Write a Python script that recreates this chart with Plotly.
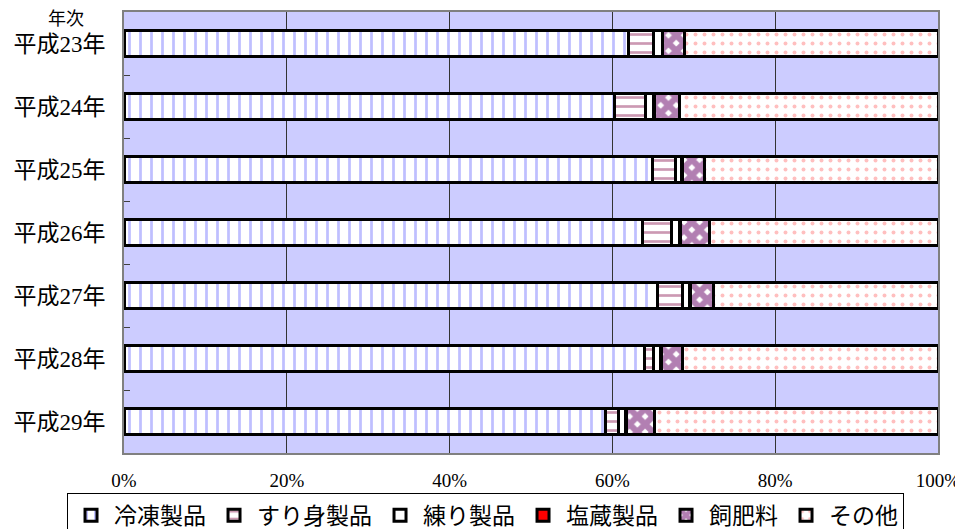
import plotly.graph_objects as go

years = ["平成23年", "平成24年", "平成25年", "平成26年", "平成27年", "平成28年", "平成29年"]
reito = [62.0, 60.3, 64.9, 63.7, 65.6, 63.9, 59.2]      # 冷凍製品
surimi = [3.0, 3.8, 2.8, 3.6, 3.0, 1.2, 1.6]           # すり身製品
neri = [1.1, 1.0, 0.8, 1.0, 0.9, 0.8, 0.8]             # 練り製品
enzo = [0.1, 0.1, 0.1, 0.1, 0.1, 0.1, 0.1]             # 塩蔵製品
shihiryo = [2.7, 3.0, 2.7, 3.5, 2.8, 2.6, 3.5]         # 飼肥料
sonota = [31.1, 31.8, 28.7, 28.1, 27.6, 31.4, 34.8]    # その他

x_ticks = [0, 20, 40, 60, 80, 100]
x_ticktext = ["0%", "20%", "40%", "60%", "80%", "100%"]

FONT = "Liberation Serif, Noto Sans CJK JP"

series = [
    ("冷凍製品", reito, dict(shape="|", fgcolor="#7f7fff", bgcolor="white", size=11, solidity=0.25)),
    ("すり身製品", surimi, dict(shape="-", fgcolor="#993366", bgcolor="white", size=9, solidity=0.3)),
    ("練り製品", neri, None),
    ("塩蔵製品", enzo, None),
    ("飼肥料", shihiryo, dict(shape="x", fgcolor="#660066", bgcolor="white", size=11, solidity=0.8)),
    ("その他", sonota, dict(shape=".", fgcolor="#ff7f7f", bgcolor="white", size=9, solidity=0.15)),
]
plain_colors = {"練り製品": "white", "塩蔵製品": "#ff0000"}

fig = go.Figure()
for name, vals, pat in series:
    marker = dict(line=dict(color="black", width=3))
    if pat is None:
        marker["color"] = plain_colors[name]
    else:
        marker["color"] = "white"
        marker["pattern"] = pat
    fig.add_trace(go.Bar(
        name=name, y=years, x=vals, orientation="h",
        marker=marker, width=0.4,
    ))

fig.update_layout(
    barmode="stack",
    width=955, height=521,
    margin=dict(l=116, r=25, t=4, b=76, autoexpand=False),
    paper_bgcolor="white",
    plot_bgcolor="#ccccff",
    font=dict(family=FONT, color="black", size=20),
    showlegend=True,
    legend=dict(
        orientation="h",
        x=-0.07, xanchor="left",
        y=-0.09, yanchor="top",
        bordercolor="black", borderwidth=1,
        bgcolor="white",
        font=dict(size=23, family=FONT),
        itemwidth=36,
        traceorder="normal",
    ),
    xaxis=dict(
        range=[0, 100],
        tickvals=x_ticks,
        ticktext=x_ticktext,
        showgrid=True, gridcolor="#333333", gridwidth=1,
        zeroline=False,
        showline=True, linecolor="#808080", linewidth=2, mirror=True,
        ticks="", tickfont=dict(size=19, family=FONT),
        ticklabelstandoff=9,
        fixedrange=True,
    ),
    yaxis=dict(
        autorange="reversed",
        showgrid=False,
        showline=True, linecolor="#808080", linewidth=2, mirror=True,
        ticks="inside", tickson="boundaries", ticklen=6, tickcolor="#404040",
        tickfont=dict(size=23, family=FONT),
        ticklabelstandoff=12,
    ),
    annotations=[
        dict(text="年次", xref="paper", yref="paper", x=-0.071, y=0.985,
             xanchor="center", yanchor="middle", showarrow=False,
             font=dict(size=18, family=FONT)),
    ],
)

fig.write_html("out.html")
